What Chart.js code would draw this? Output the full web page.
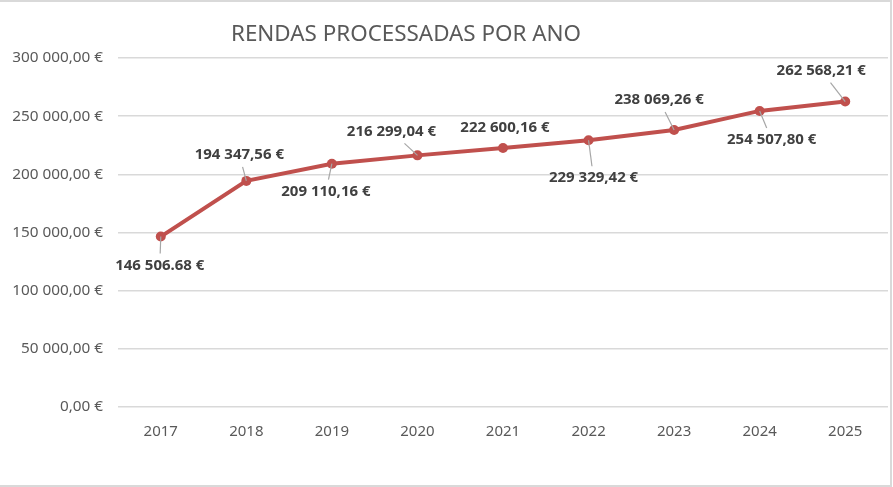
<!DOCTYPE html>
<html>
<head>
<meta charset="utf-8">
<title>Rendas processadas por ano</title>
<script src="https://cdn.jsdelivr.net/npm/chart.js@4.4.1/dist/chart.umd.min.js"></script>
<style>
  html, body { margin: 0; padding: 0; background: #fff; }
  #wrap { width: 893px; height: 487px; }
</style>
</head>
<body>
<div id="wrap"><canvas id="rendas-chart" width="893" height="487"></canvas></div>
<script>
const TITLE = 'RENDAS PROCESSADAS POR ANO';
const years = ['2017', '2018', '2019', '2020', '2021', '2022', '2023', '2024', '2025'];
const rendas = [146506.68, 194347.56, 209110.16, 216299.04, 222600.16, 229329.42, 238069.26, 254507.80, 262568.21];
const valueLabels = ['146 506.68 €', '194 347,56 €', '209 110,16 €', '216 299,04 €', '222 600,16 €',
  '229 329,42 €', '238 069,26 €', '254 507,80 €', '262 568,21 €'];
const yTicks = [0, 50000, 100000, 150000, 200000, 250000, 300000];

// where each value label sits relative to its point (px), and whether it gets a leader line
const labelOffsets = [[-1, 29], [-7, -26], [-6, 28], [-26, -24], [2, -20], [5, 38], [-15, -30], [12, 29], [-24, -31]];
const labelLeaders = [true, true, true, true, false, true, true, true, true];

const FONT = "'Noto Sans', sans-serif";
const TEXT_GREY = '#595959';

function euro(v) {
  const [int, dec] = v.toFixed(2).split('.');
  return int.replace(/\B(?=(\d{3})+(?!\d))/g, ' ') + ',' + dec + ' €';
}

const frame = {
  id: 'frame',
  beforeDraw(chart) {
    const { ctx, width, height } = chart;
    ctx.save();
    ctx.strokeStyle = '#d9d9d9';
    ctx.lineWidth = 2;
    ctx.beginPath();
    ctx.moveTo(0, 1); ctx.lineTo(width - 2, 1);
    ctx.lineTo(width - 2, height - 1); ctx.lineTo(0, height - 1);
    ctx.stroke();
    ctx.fillStyle = TEXT_GREY;
    ctx.font = `22.4px ${FONT}`;
    ctx.textAlign = 'center';
    ctx.textBaseline = 'middle';
    ctx.fillText(TITLE, 406, 35);
    ctx.restore();
  },
};

const valueLabelsPlugin = {
  id: 'valueLabels',
  afterDatasetsDraw(chart) {
    const { ctx } = chart;
    const points = chart.getDatasetMeta(0).data;
    ctx.save();
    ctx.font = `bold 15px ${FONT}`;
    ctx.textAlign = 'center';
    ctx.textBaseline = 'middle';
    points.forEach((pt, i) => {
      const [dx, dy] = labelOffsets[i];
      const cx = pt.x + dx, cy = pt.y + dy;
      if (labelLeaders[i]) {
        const hw = ctx.measureText(valueLabels[i]).width / 2 + 4;
        const hh = 12;
        const s = Math.min(dx ? hw / Math.abs(dx) : Infinity, dy ? hh / Math.abs(dy) : Infinity);
        if (s < 1) {
          ctx.strokeStyle = '#a6a6a6';
          ctx.lineWidth = 1.2;
          ctx.beginPath();
          ctx.moveTo(cx - s * dx, cy - s * dy);
          ctx.lineTo(pt.x, pt.y);
          ctx.stroke();
        }
      }
      ctx.fillStyle = '#404040';
      ctx.fillText(valueLabels[i], cx, cy);
    });
    ctx.restore();
  },
};

new Chart(document.getElementById('rendas-chart'), {
  type: 'line',
  data: {
    labels: years,
    datasets: [{
      label: 'Rendas',
      data: rendas,
      borderColor: '#c0504d',
      backgroundColor: '#c0504d',
      borderWidth: 4,
      pointRadius: 5,
      pointBorderWidth: 0,
      pointBackgroundColor: '#c0504d',
      tension: 0,
    }],
  },
  options: {
    responsive: false,
    animation: false,
    layout: { padding: { top: 58, right: 3, left: 0, bottom: 0 } },
    plugins: {
      legend: { display: false },
      title: { display: false },
      tooltip: { enabled: false },
    },
    scales: {
      x: {
        offset: true,
        grid: { display: false, drawTicks: false },
        border: { display: false },
        ticks: { color: TEXT_GREY, font: { family: FONT, size: 15 }, padding: 16 },
        afterFit(scale) { scale.height = 80; },
      },
      y: {
        min: 0,
        max: 300000,
        afterBuildTicks(scale) { scale.ticks = yTicks.map((v) => ({ value: v })); },
        grid: { color: '#d9d9d9', lineWidth: 1.5, drawTicks: false },
        border: { display: false },
        ticks: { color: TEXT_GREY, font: { family: FONT, size: 15.3 }, padding: 15, callback: (v) => euro(v) },
        afterFit(scale) { scale.width = 118; },
      },
    },
  },
  plugins: [frame, valueLabelsPlugin],
});
</script>
</body>
</html>
